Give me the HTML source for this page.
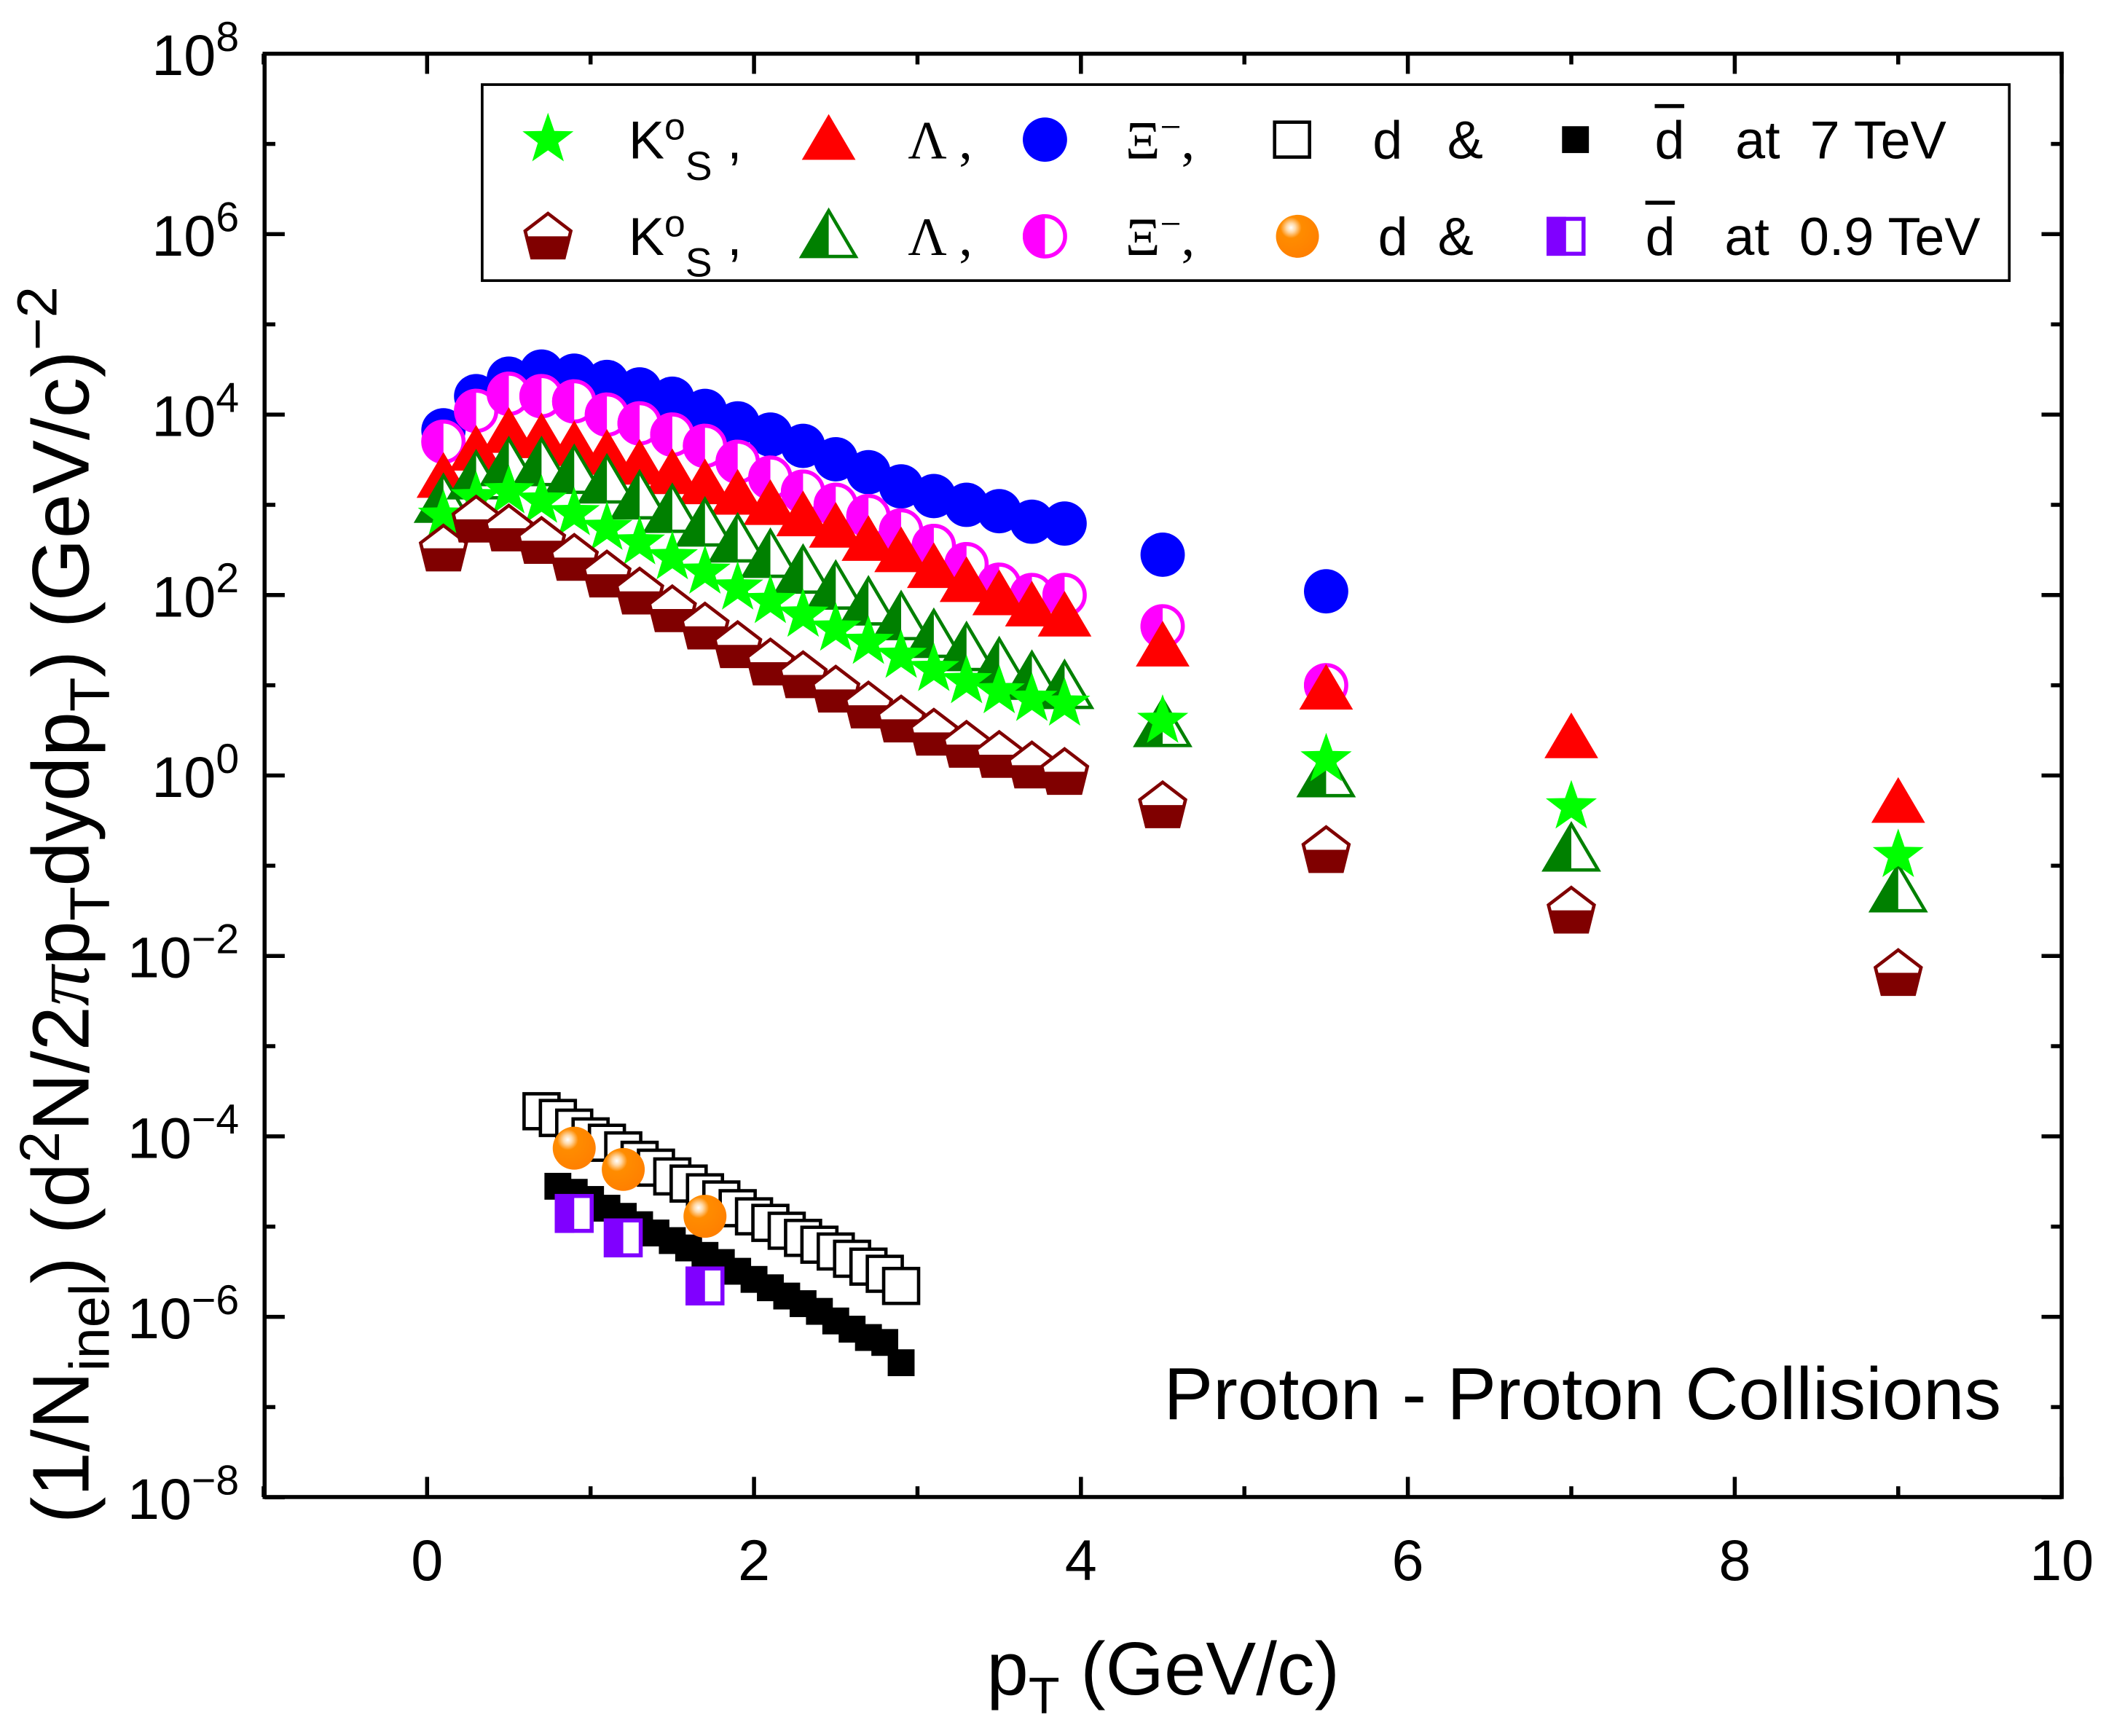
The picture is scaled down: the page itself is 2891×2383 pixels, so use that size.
<!DOCTYPE html>
<html><head><meta charset="utf-8"><style>html,body{margin:0;padding:0;background:#fff}svg{display:block}</style></head>
<body>
<svg id="chart" width="2891" height="2383" viewBox="0 0 1568 1293" preserveAspectRatio="none" xmlns="http://www.w3.org/2000/svg" font-family="'Liberation Sans', sans-serif">
<defs>
<radialGradient id="og" cx="0.35" cy="0.3" r="0.7">
<stop offset="0" stop-color="#ffffff"/><stop offset="0.15" stop-color="#ffd9a8"/><stop offset="0.35" stop-color="#ff8c00"/><stop offset="1" stop-color="#ff8000"/>
</radialGradient>
</defs>
<rect x="0" y="0" width="1568" height="1293" fill="#fff"/>
<g id="marks"></g>
<g id="axes"></g>
<rect x="197" y="40" width="1338" height="1075" fill="none" stroke="#000" stroke-width="3"/>
<g>
<rect x="359" y="63" width="1137" height="146" fill="#fff" stroke="#000" stroke-width="2"/>
<g id="legmarks"></g>
<g font-size="40" fill="#000">
<text x="468" y="118">K<tspan dy="-14" font-size="28">o</tspan><tspan dy="30" font-size="30">S</tspan><tspan dy="-16"> ,</tspan></text>
<text x="676" y="118" font-family="'Liberation Serif', serif">Λ ,</text>
<text x="838" y="118" font-family="'Liberation Serif', serif">Ξ<tspan dy="-14" font-size="28">−</tspan><tspan dy="14">,</tspan></text>
<text x="1022" y="118">d&#160;&#160;&#160;&amp;</text>
<text x="1232" y="118">d</text>
<line x1="1232" y1="79" x2="1254" y2="79" stroke="#000" stroke-width="3"/>
<text x="1292" y="118">at&#160;&#160;7 TeV</text>
<text x="468" y="190">K<tspan dy="-14" font-size="28">o</tspan><tspan dy="30" font-size="30">S</tspan><tspan dy="-16"> ,</tspan></text>
<text x="676" y="190" font-family="'Liberation Serif', serif">Λ ,</text>
<text x="838" y="190" font-family="'Liberation Serif', serif">Ξ<tspan dy="-14" font-size="28">−</tspan><tspan dy="14">,</tspan></text>
<text x="1026" y="190">d&#160;&#160;&amp;</text>
<text x="1225" y="190">d</text>
<line x1="1225" y1="151" x2="1247" y2="151" stroke="#000" stroke-width="3"/>
<text x="1284" y="190">at&#160;&#160;0.9 TeV</text>
</g>
</g>
<text x="1490" y="1057" font-size="55" text-anchor="end">Proton - Proton Collisions</text>
<text x="866" y="1262" font-size="56" text-anchor="middle">p<tspan dy="14" font-size="38">T</tspan><tspan dy="-14"> (GeV/c)</tspan></text>
<text transform="translate(66,674) rotate(-90)" font-size="60" text-anchor="middle">(1/N<tspan dy="15" font-size="42">inel</tspan><tspan dy="-15">) (d</tspan><tspan dy="-22" font-size="42">2</tspan><tspan dy="22">N/2</tspan><tspan font-family="'Liberation Serif', serif" font-style="italic">π</tspan>p<tspan dy="15" font-size="42">T</tspan><tspan dy="-15">dydp</tspan><tspan dy="15" font-size="42">T</tspan><tspan dy="-15">) (GeV/c)</tspan><tspan dy="-24" font-size="42">−2</tspan></text>
</svg>
<script>
const ptMain = [0.1,0.3,0.5,0.7,0.9,1.1,1.3,1.5,1.7,1.9,2.1,2.3,2.5,2.7,2.9,3.1,3.3,3.5,3.7,3.9,4.5,5.5];
const ptHigh = [0.1,0.3,0.5,0.7,0.9,1.1,1.3,1.5,1.7,1.9,2.1,2.3,2.5,2.7,2.9,3.1,3.3,3.5,3.7,3.9,4.5,5.5,7,9];
const xi7 = [6.7e3,1.6e4,2.5e4,3e4,2.7e4,2.3e4,1.9e4,1.5e4,1.1e4,8e3,6e3,4.5e3,3.2e3,2.3e3,1.6e3,1.25e3,1.0e3,850,650,620,280,110];
const xi09 = [5e3,1.1e4,1.7e4,1.6e4,1.4e4,1.0e4,8e3,6e3,4.5e3,3e3,2e3,1.4e3,1.0e3,750,520,350,220,130,100,100,45,10];
const lam7 = [2e3,4e3,6.3e3,5.5e3,4.5e3,3.6e3,2.8e3,2.2e3,1.7e3,1.3e3,1e3,750,560,400,300,200,140,100,75,58,27,9,2.6,0.5];
const lam09 = [1.1e3,2e3,2.8e3,2.8e3,2.3e3,1.8e3,1.2e3,850,600,400,270,180,120,80,55,35,25,17,12,9.5,3.6,1.0,0.15,0.053];
const k0s7 = [750,1.2e3,1.4e3,1.1e3,800,550,380,260,180,120,85,60,42,30,21,15,11,8.5,7,6.2,4,1.5,0.45,0.13];
const k0s09 = [330,690,550,400,260,170,110,70,45,28,18,13,9,6,4.2,3.0,2.2,1.7,1.3,1.1,0.47,0.15,0.032,0.0065];
const ptD7 = [0.7,0.8,0.9,1.0,1.1,1.2,1.3,1.4,1.5,1.6,1.7,1.8,1.9,2.0,2.1,2.2,2.3,2.4,2.5,2.6,2.7,2.8,2.9];
const d7 = [1.9e-4,1.6e-4,1.25e-4,1.0e-4,8.5e-5,7e-5,5.5e-5,4.5e-5,3.6e-5,3e-5,2.4e-5,2e-5,1.6e-5,1.3e-5,1.1e-5,9e-6,7.5e-6,6.3e-6,5.3e-6,4.4e-6,3.6e-6,3e-6,2.2e-6];
const ptDbar7 = [0.8,0.9,1.0,1.1,1.2,1.3,1.4,1.5,1.6,1.7,1.8,1.9,2.0,2.1,2.2,2.3,2.4,2.5,2.6,2.7,2.8,2.9];
const dbar7 = [2.8e-5,2.4e-5,2e-5,1.6e-5,1.3e-5,1.05e-5,8.5e-6,7e-6,5.8e-6,4.8e-6,4e-6,3.2e-6,2.6e-6,2.1e-6,1.7e-6,1.4e-6,1.15e-6,9e-7,7.3e-7,5.9e-7,5.2e-7,3.1e-7];
const ptD09 = [0.9,1.2,1.7];
const d09 = [7.4e-5,4.3e-5,1.3e-5];
const dbar09 = [1.4e-5,7.5e-6,2.2e-6];
const xTicks = [0,2,4,6,8,10];
const yTickExp = [8,6,4,2,0,-2,-4,-6,-8];

const NS='http://www.w3.org/2000/svg';
function X(v){return 318+121.7*v;}
function Y(v){return 40+(8-Math.log10(v))*67.2;}
function mk(tag,attrs,parent){const e=document.createElementNS(NS,tag);for(const k in attrs)e.setAttribute(k,attrs[k]);parent.appendChild(e);return e;}
const marks=document.getElementById('marks');
const legm=document.getElementById('legmarks');

function star(g,x,y,col){let p=[];for(let i=0;i<10;i++){const r=i%2?8:20;const a=-Math.PI/2+i*Math.PI/5;p.push((x+r*Math.cos(a)).toFixed(1)+','+(y+r*Math.sin(a)).toFixed(1));}
 mk('polygon',{points:p.join(' '),fill:col},g);}
function tri(g,x,y,col){mk('polygon',{points:`${x},${y-19} ${x-20},${y+15} ${x+20},${y+15}`,fill:col},g);}
function halfTri(g,x,y,col){mk('polygon',{points:`${x},${y-19} ${x-20},${y+15} ${x+20},${y+15}`,fill:'#fff',stroke:col,'stroke-width':2.5},g);
 mk('polygon',{points:`${x},${y-19} ${x-20},${y+15} ${x},${y+15}`,fill:col},g);}
function circ(g,x,y,col){mk('circle',{cx:x,cy:y,r:16.5,fill:col},g);}
function halfCirc(g,x,y,col){mk('circle',{cx:x,cy:y,r:15,fill:'#fff',stroke:col,'stroke-width':3},g);
 mk('path',{d:`M${x},${y-16.5} A16.5,16.5 0 0 0 ${x},${y+16.5} Z`,fill:col},g);}
function pent(g,x,y,col){mk('polygon',{points:`${x},${y-17} ${x+17},${y-4} ${x+12},${y+16} ${x-12},${y+16} ${x-17},${y-4}`,fill:'#fff',stroke:col,'stroke-width':2.5},g);
 mk('polygon',{points:`${x+16},${y} ${x+12},${y+16} ${x-12},${y+16} ${x-16},${y}`,fill:col},g);}
function sq(g,x,y,open){if(open)mk('rect',{x:x-13,y:y-13,width:26,height:26,fill:'#fff',stroke:'#000','stroke-width':2.5},g);
 else mk('rect',{x:x-10,y:y-10,width:20,height:20,fill:'#000'},g);}
function orb(g,x,y){mk('circle',{cx:x,cy:y,r:16,fill:'url(#og)'},g);}
function halfSq(g,x,y){mk('rect',{x:x-13,y:y-13,width:26,height:26,fill:'#fff',stroke:'#8000ff','stroke-width':3},g);
 mk('rect',{x:x-14.5,y:y-14.5,width:14.5,height:29,fill:'#8000ff'},g);}

function series(name,xs,ys,fn){const g=mk('g',{},marks);
 
 
 for(let i=0;i<ys.length;i++){const pg=mk('g',{},g);
  
  
  fn(pg,X(xs[i]),Y(ys[i]));}}

series('xi-7tev',ptMain,xi7,(g,x,y)=>circ(g,x,y,'#0000ff'));
series('xi-09tev',ptMain,xi09,(g,x,y)=>halfCirc(g,x,y,'#ff00ff'));
series('lambda-7tev',ptHigh,lam7,(g,x,y)=>tri(g,x,y,'#ff0000'));
series('lambda-09tev',ptHigh,lam09,(g,x,y)=>halfTri(g,x,y,'#008000'));
series('k0s-7tev',ptHigh,k0s7,(g,x,y)=>star(g,x,y,'#00ff00'));
series('k0s-09tev',ptHigh,k0s09,(g,x,y)=>pent(g,x,y,'#800000'));
series('d-7tev',ptD7,d7,(g,x,y)=>sq(g,x,y,true));
series('dbar-7tev',ptDbar7,dbar7,(g,x,y)=>sq(g,x,y,false));
series('d-09tev',ptD09,d09,(g,x,y)=>orb(g,x,y));
series('dbar-09tev',ptD09,dbar09,(g,x,y)=>halfSq(g,x,y));

// legend markers
star(legm,408,104,'#00ff00'); tri(legm,617,104,'#ff0000'); circ(legm,778,104,'#0000ff'); sq(legm,962,104,true); sq(legm,1173,104,false);
pent(legm,408,176,'#800000'); halfTri(legm,617,176,'#008000'); halfCirc(legm,778,176,'#ff00ff'); orb(legm,966,176); halfSq(legm,1166,176);

// axes
const ax=document.getElementById('axes');
for(let v=-1;v<=10;v++){const x=X(v);const maj=(v%2===0);const L=maj?15:8;
 mk('line',{x1:x,y1:1115,x2:x,y2:1115-L,stroke:'#000','stroke-width':3},ax);
 mk('line',{x1:x,y1:40,x2:x,y2:40+L,stroke:'#000','stroke-width':3},ax);}
for(const v of xTicks){const t=mk('text',{x:X(v),y:1177,'font-size':43,'text-anchor':'middle'},ax);t.textContent=String(v);
 
 }
for(let e=-8;e<=8;e++){const y=Y(Math.pow(10,e));const maj=(e%2===0);const L=maj?15:8;
 mk('line',{x1:197,y1:y,x2:197+L,y2:y,stroke:'#000','stroke-width':3},ax);
 mk('line',{x1:1535,y1:y,x2:1535-L,y2:y,stroke:'#000','stroke-width':3},ax);}
for(const e of yTickExp){const y=Y(Math.pow(10,e));
 const t=mk('text',{x:178,y:y+16,'font-size':43,'text-anchor':'end'},ax);
 
 
 const a=document.createElementNS(NS,'tspan');a.textContent='10';t.appendChild(a);
 const b=document.createElementNS(NS,'tspan');b.setAttribute('dy','-18');b.setAttribute('font-size','31');b.textContent=(e<0?'−'+(-e):String(e));t.appendChild(b);}
</script>
</body></html>
